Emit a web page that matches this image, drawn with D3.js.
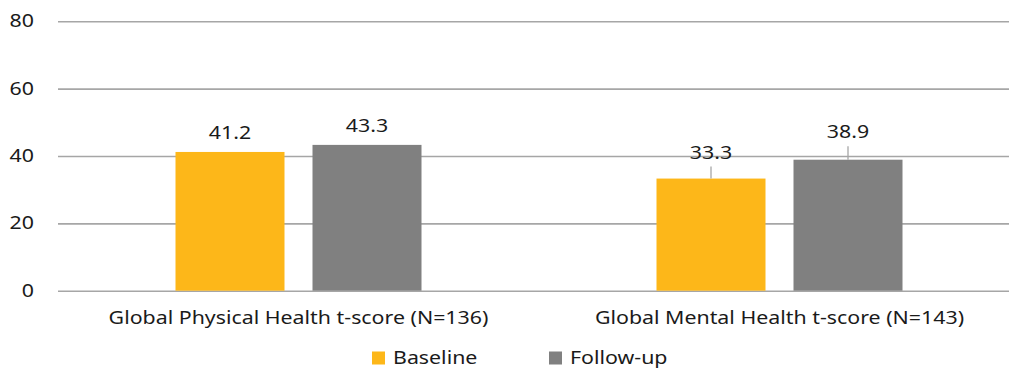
<!DOCTYPE html>
<html>
<head>
<meta charset="utf-8">
<script src="https://cdn.jsdelivr.net/npm/d3@7/dist/d3.min.js"></script>
<style>
  html, body { margin: 0; padding: 0; background: #fff; }
  svg { display: block; font-family: "Noto Sans", "Open Sans", sans-serif; }
</style>
</head>
<body>
<svg id="chart" width="1009" height="368"></svg>
<script>
// Chart data
const categories = ["Global Physical Health t-score (N=136)", "Global Mental Health t-score (N=143)"];
const seriesNames = ["Baseline", "Follow-up"];
const baseline = [41.2, 33.3];
const followUp = [43.3, 38.9];
const yTicks = [0, 20, 40, 60, 80];

const colors = { "Baseline": "#FDB719", "Follow-up": "#808080" };
const textColor = "#1a1a1a";
const fontSize = 17.5;
const widen = 1.22; // horizontal stretch of the wide label face

const svg = d3.select("#chart");
const plotLeft = 58, plotRight = 1020, plotTop = 21.3, plotBottom = 290.7;

const x0 = d3.scaleBand().domain(categories).range([plotLeft, plotRight]);
const bw = x0.bandwidth();
const barW = 109, barGap = 28;
const x1 = d3.scaleBand().domain(seriesNames)
  .range([bw / 2 - barW - barGap / 2, bw / 2 + barW + barGap / 2])
  .paddingInner(barGap / (barW + barGap)).paddingOuter(0);
const y = d3.scaleLinear().domain([0, 80]).range([plotBottom, plotTop]);

function stretch(sel) {
  sel.each(function () {
    const len = this.getComputedTextLength();
    d3.select(this).attr("textLength", len * widen).attr("lengthAdjust", "spacingAndGlyphs");
  });
}

// Horizontal gridlines with value ticks
const yAxis = d3.axisLeft(y).tickValues(yTicks).tickSize(-(plotRight - plotLeft)).tickPadding(24).tickFormat(d3.format("d"));
const gy = svg.append("g").attr("transform", `translate(${plotLeft},0)`).call(yAxis);
gy.select(".domain").remove();
gy.selectAll(".tick line").attr("stroke", "#A6A6A6").attr("stroke-width", 1.6);
gy.selectAll(".tick text").attr("font-size", fontSize).attr("fill", textColor)
  .attr("font-family", "Noto Sans").call(stretch);

// Bars
const rows = categories.map((c, i) => ({ category: c, values: [
  { series: "Baseline", value: baseline[i] },
  { series: "Follow-up", value: followUp[i] }
]}));

const groups = svg.selectAll("g.group").data(rows).enter().append("g")
  .attr("class", "group")
  .attr("transform", d => `translate(${x0(d.category)},0)`);

groups.selectAll("rect").data(d => d.values).enter().append("rect")
  .attr("x", d => x1(d.series))
  .attr("width", x1.bandwidth())
  .attr("y", d => y(d.value))
  .attr("height", d => y(0) - y(d.value))
  .attr("fill", d => colors[d.series]);

// Value labels; the second group's labels sit higher with leader lines
const lift = [[13, 13], [20, 21.5]];
groups.each(function (d, gi) {
  const g = d3.select(this);
  d.values.forEach((v, si) => {
    const cx = x1(v.series) + x1.bandwidth() / 2;
    const top = y(v.value);
    const off = lift[gi][si];
    if (off > 15) {
      g.append("line")
        .attr("x1", cx).attr("x2", cx)
        .attr("y1", top).attr("y2", top - off + 8)
        .attr("stroke", "#A6A6A6").attr("stroke-width", 1.3);
    }
    g.append("text")
      .attr("x", cx).attr("y", top - off)
      .attr("text-anchor", "middle")
      .attr("font-size", fontSize)
      .attr("fill", textColor)
      .text(d3.format(".1f")(v.value))
      .call(stretch);
  });
});

// Category labels
svg.append("g").selectAll("text").data(categories).enter().append("text")
  .attr("x", d => x0(d) + bw / 2)
  .attr("y", 324)
  .attr("text-anchor", "middle")
  .attr("font-size", fontSize)
  .attr("fill", textColor)
  .text(d => d)
  .call(stretch);

// Legend
const legendX = [372, 549];
const legend = svg.append("g").selectAll("g").data(seriesNames).enter().append("g")
  .attr("transform", (d, i) => `translate(${legendX[i]},0)`);
legend.append("rect").attr("x", 0).attr("y", 351.5).attr("width", 13).attr("height", 13)
  .attr("fill", d => colors[d]);
legend.append("text").attr("x", 21).attr("y", 363.5)
  .attr("font-size", fontSize).attr("fill", textColor).text(d => d)
  .call(stretch);
</script>
</body>
</html>
